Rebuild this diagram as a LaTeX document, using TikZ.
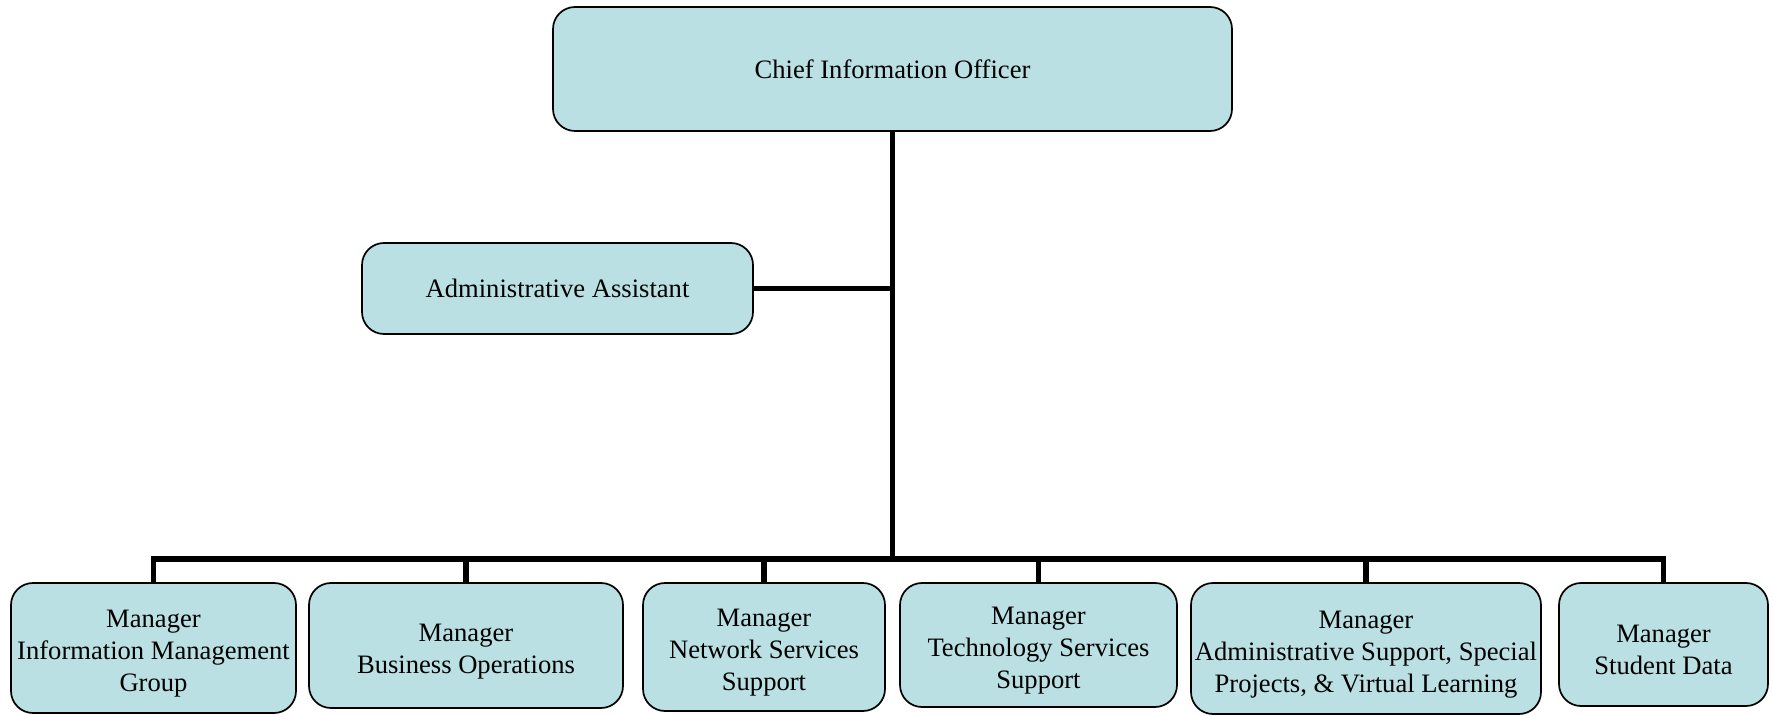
\documentclass[tikz,border=0pt]{standalone}
\usepackage{fontspec}
\setmainfont{Liberation Serif}
\usepackage{tikz}

\definecolor{boxfill}{RGB}{186,224,227}
\newcommand{\topgap}{\rule{0pt}{14.4pt}}

\begin{document}
\begin{tikzpicture}[x=0.5pt, y=-0.5pt,
	orgbox/.style={draw, line width=0.85pt, fill=boxfill, rounded corners=11pt,
		align=center, inner sep=1pt, font=\fontsize{13.3}{16}\selectfont},
	link/.style={line width=2.8pt}]
	\useasboundingbox (0,0) rectangle (1773,716);

	\coordinate (T) at (892.5,559);

	\node [orgbox, minimum width=339.5pt, minimum height=62pt] (cio) at (892.5,69) {Chief Information Officer};
	\node [orgbox, minimum width=195.5pt, minimum height=45.5pt] (assistant) at (557.5,288.5) {Administrative Assistant};

	\node [orgbox, minimum width=142.5pt, minimum height=65pt] (infomgmt) at (153.5,648) {\topgap Manager\\Information Management\\Group};
	\node [orgbox, minimum width=157pt, minimum height=62.5pt] (business) at (466,645.5) {\topgap Manager\\Business Operations};
	\node [orgbox, minimum width=121pt, minimum height=64pt] (network) at (764,647) {\topgap Manager\\Network Services\\Support};
	\node [orgbox, minimum width=138.5pt, minimum height=62pt] (techserv) at (1038.5,645) {\topgap Manager\\Technology Services\\Support};
	\node [orgbox, minimum width=175pt, minimum height=65.5pt] (adminsup) at (1366,648.5) {\topgap Manager\\Administrative Support, Special\\Projects, \& Virtual Learning};
	\node [orgbox, minimum width=104.5pt, minimum height=61.5pt] (student) at (1663.5,644.5) {\topgap Manager\\Student Data};

	\draw [link] (cio.south) -- (T);
	\draw [link] (assistant.east) -- (assistant.east -| T);
	\draw [link, line cap=rect] (infomgmt.north |- T) -- (student.north |- T);
	\foreach \mgr in {infomgmt, business, network, techserv, adminsup, student}
		\draw [link] (\mgr.north) -- (\mgr.north |- T);
\end{tikzpicture}
\end{document}
